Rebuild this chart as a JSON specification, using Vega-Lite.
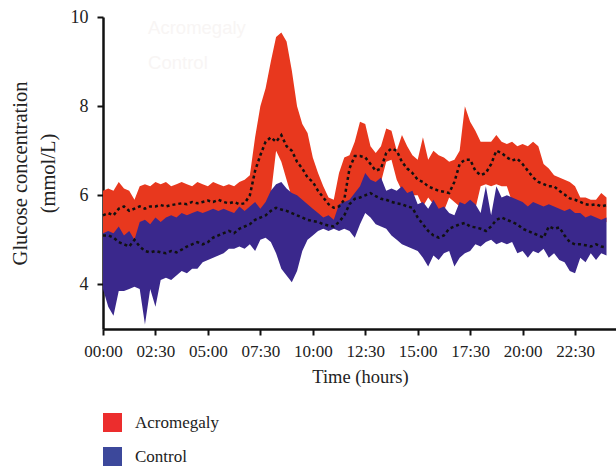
{
  "$schema": "https://vega.github.io/schema/vega-lite/v6.json",
  "width": 514,
  "height": 312,
  "autosize": {"type": "none"},
  "padding": {"left": 103, "top": 17, "right": 0, "bottom": 137},
  "background": "white",
  "config": {
    "view": {"stroke": null},
    "axis": {
      "grid": false,
      "domainColor": "#111",
      "domainWidth": 2.5,
      "tickColor": "#111",
      "tickWidth": 2,
      "tickSize": 6,
      "labelFont": "Liberation Serif",
      "labelFontSize": 17,
      "labelColor": "#222",
      "labelFlush": false,
      "labelOverlap": false,
      "titleFont": "Liberation Serif",
      "titleFontWeight": "normal",
      "titleColor": "#222"
    }
  },
  "datasets": {
    "ghost": [
      {"h": 2.15, "v": 9.75, "t": "Acromegaly"},
      {"h": 2.15, "v": 8.965, "t": "Control"}
    ]
  },
  "data": {
    "values": [
      {"h":0,"g":"Acromegaly","lo":5.05,"hi":6.1,"m":5.55},
      {"h":0.25,"g":"Acromegaly","lo":5.1,"hi":6.15,"m":5.6},
      {"h":0.5,"g":"Acromegaly","lo":5.05,"hi":6.1,"m":5.55},
      {"h":0.75,"g":"Acromegaly","lo":5.2,"hi":6.3,"m":5.7},
      {"h":1,"g":"Acromegaly","lo":5.0,"hi":6.15,"m":5.75},
      {"h":1.25,"g":"Acromegaly","lo":5.1,"hi":6.1,"m":5.65},
      {"h":1.5,"g":"Acromegaly","lo":4.95,"hi":5.9,"m":5.7},
      {"h":1.75,"g":"Acromegaly","lo":5.3,"hi":6.2,"m":5.75},
      {"h":2,"g":"Acromegaly","lo":5.35,"hi":6.25,"m":5.7},
      {"h":2.25,"g":"Acromegaly","lo":5.25,"hi":6.2,"m":5.75},
      {"h":2.5,"g":"Acromegaly","lo":5.4,"hi":6.3,"m":5.75},
      {"h":2.75,"g":"Acromegaly","lo":5.3,"hi":6.25,"m":5.78},
      {"h":3,"g":"Acromegaly","lo":5.4,"hi":6.3,"m":5.75},
      {"h":3.25,"g":"Acromegaly","lo":5.45,"hi":6.2,"m":5.78},
      {"h":3.5,"g":"Acromegaly","lo":5.4,"hi":6.25,"m":5.8},
      {"h":3.75,"g":"Acromegaly","lo":5.5,"hi":6.3,"m":5.82},
      {"h":4,"g":"Acromegaly","lo":5.45,"hi":6.25,"m":5.8},
      {"h":4.25,"g":"Acromegaly","lo":5.5,"hi":6.2,"m":5.85},
      {"h":4.5,"g":"Acromegaly","lo":5.55,"hi":6.3,"m":5.82},
      {"h":4.75,"g":"Acromegaly","lo":5.5,"hi":6.25,"m":5.85},
      {"h":5,"g":"Acromegaly","lo":5.55,"hi":6.2,"m":5.88},
      {"h":5.25,"g":"Acromegaly","lo":5.6,"hi":6.3,"m":5.85},
      {"h":5.5,"g":"Acromegaly","lo":5.55,"hi":6.25,"m":5.9},
      {"h":5.75,"g":"Acromegaly","lo":5.6,"hi":6.2,"m":5.85},
      {"h":6,"g":"Acromegaly","lo":5.55,"hi":6.25,"m":5.82},
      {"h":6.25,"g":"Acromegaly","lo":5.5,"hi":6.2,"m":5.85},
      {"h":6.5,"g":"Acromegaly","lo":5.65,"hi":6.3,"m":5.8},
      {"h":6.75,"g":"Acromegaly","lo":5.55,"hi":6.35,"m":5.82},
      {"h":7,"g":"Acromegaly","lo":5.65,"hi":6.45,"m":6.0},
      {"h":7.25,"g":"Acromegaly","lo":5.75,"hi":7.3,"m":6.55},
      {"h":7.5,"g":"Acromegaly","lo":5.6,"hi":8.0,"m":6.9},
      {"h":7.75,"g":"Acromegaly","lo":5.75,"hi":8.4,"m":7.2},
      {"h":8,"g":"Acromegaly","lo":6.0,"hi":9.0,"m":7.3},
      {"h":8.25,"g":"Acromegaly","lo":7.0,"hi":9.55,"m":7.2},
      {"h":8.5,"g":"Acromegaly","lo":6.75,"hi":9.65,"m":7.35},
      {"h":8.75,"g":"Acromegaly","lo":6.35,"hi":9.45,"m":7.1},
      {"h":9,"g":"Acromegaly","lo":5.95,"hi":8.8,"m":7.0},
      {"h":9.25,"g":"Acromegaly","lo":5.9,"hi":8.0,"m":6.75},
      {"h":9.5,"g":"Acromegaly","lo":5.8,"hi":7.6,"m":6.6},
      {"h":9.75,"g":"Acromegaly","lo":5.7,"hi":7.4,"m":6.4},
      {"h":10,"g":"Acromegaly","lo":5.6,"hi":6.85,"m":6.3},
      {"h":10.25,"g":"Acromegaly","lo":5.5,"hi":6.5,"m":6.1},
      {"h":10.5,"g":"Acromegaly","lo":5.4,"hi":6.2,"m":5.95},
      {"h":10.75,"g":"Acromegaly","lo":5.45,"hi":5.95,"m":5.8},
      {"h":11,"g":"Acromegaly","lo":5.35,"hi":5.9,"m":5.72},
      {"h":11.25,"g":"Acromegaly","lo":5.7,"hi":6.5,"m":5.75},
      {"h":11.5,"g":"Acromegaly","lo":5.75,"hi":6.85,"m":5.9},
      {"h":11.75,"g":"Acromegaly","lo":5.8,"hi":6.9,"m":6.6},
      {"h":12,"g":"Acromegaly","lo":5.95,"hi":7.2,"m":6.88},
      {"h":12.25,"g":"Acromegaly","lo":6.1,"hi":7.65,"m":6.88},
      {"h":12.5,"g":"Acromegaly","lo":6.4,"hi":7.6,"m":6.85},
      {"h":12.75,"g":"Acromegaly","lo":6.25,"hi":7.1,"m":6.7},
      {"h":13,"g":"Acromegaly","lo":6.2,"hi":6.95,"m":6.55},
      {"h":13.25,"g":"Acromegaly","lo":6.3,"hi":7.1,"m":6.6},
      {"h":13.5,"g":"Acromegaly","lo":6.75,"hi":7.5,"m":6.95},
      {"h":13.75,"g":"Acromegaly","lo":6.8,"hi":7.45,"m":7.05},
      {"h":14,"g":"Acromegaly","lo":6.35,"hi":7.0,"m":7.0},
      {"h":14.25,"g":"Acromegaly","lo":6.1,"hi":7.35,"m":6.75},
      {"h":14.5,"g":"Acromegaly","lo":5.95,"hi":7.1,"m":6.6},
      {"h":14.75,"g":"Acromegaly","lo":6.0,"hi":6.9,"m":6.5},
      {"h":15,"g":"Acromegaly","lo":6.0,"hi":6.8,"m":6.35},
      {"h":15.25,"g":"Acromegaly","lo":5.75,"hi":7.3,"m":6.3},
      {"h":15.5,"g":"Acromegaly","lo":5.95,"hi":6.8,"m":6.2},
      {"h":15.75,"g":"Acromegaly","lo":5.8,"hi":7.0,"m":6.15},
      {"h":16,"g":"Acromegaly","lo":5.6,"hi":6.9,"m":6.1},
      {"h":16.25,"g":"Acromegaly","lo":5.65,"hi":6.85,"m":6.08},
      {"h":16.5,"g":"Acromegaly","lo":5.95,"hi":6.75,"m":6.05},
      {"h":16.75,"g":"Acromegaly","lo":5.85,"hi":6.8,"m":6.3},
      {"h":17,"g":"Acromegaly","lo":5.75,"hi":7.0,"m":6.7},
      {"h":17.25,"g":"Acromegaly","lo":5.7,"hi":8.0,"m":6.8},
      {"h":17.5,"g":"Acromegaly","lo":5.8,"hi":7.65,"m":6.8},
      {"h":17.75,"g":"Acromegaly","lo":5.7,"hi":7.45,"m":6.55},
      {"h":18,"g":"Acromegaly","lo":6.2,"hi":7.2,"m":6.45},
      {"h":18.25,"g":"Acromegaly","lo":6.25,"hi":7.2,"m":6.5},
      {"h":18.5,"g":"Acromegaly","lo":6.2,"hi":7.2,"m":6.7},
      {"h":18.75,"g":"Acromegaly","lo":6.25,"hi":7.35,"m":7.0},
      {"h":19,"g":"Acromegaly","lo":6.2,"hi":7.2,"m":6.95},
      {"h":19.25,"g":"Acromegaly","lo":6.2,"hi":7.15,"m":6.85},
      {"h":19.5,"g":"Acromegaly","lo":5.85,"hi":7.2,"m":6.78},
      {"h":19.75,"g":"Acromegaly","lo":5.8,"hi":7.1,"m":6.82},
      {"h":20,"g":"Acromegaly","lo":5.75,"hi":7.15,"m":6.7},
      {"h":20.25,"g":"Acromegaly","lo":5.65,"hi":7.1,"m":6.55},
      {"h":20.5,"g":"Acromegaly","lo":5.75,"hi":7.2,"m":6.4},
      {"h":20.75,"g":"Acromegaly","lo":5.7,"hi":7.1,"m":6.3},
      {"h":21,"g":"Acromegaly","lo":5.65,"hi":6.7,"m":6.25},
      {"h":21.25,"g":"Acromegaly","lo":5.7,"hi":6.6,"m":6.2},
      {"h":21.5,"g":"Acromegaly","lo":5.65,"hi":6.45,"m":6.2},
      {"h":21.75,"g":"Acromegaly","lo":5.6,"hi":6.4,"m":6.1},
      {"h":22,"g":"Acromegaly","lo":5.55,"hi":6.35,"m":6.02},
      {"h":22.25,"g":"Acromegaly","lo":5.6,"hi":6.3,"m":5.93},
      {"h":22.5,"g":"Acromegaly","lo":5.5,"hi":6.2,"m":5.9},
      {"h":22.75,"g":"Acromegaly","lo":5.5,"hi":5.95,"m":5.85},
      {"h":23,"g":"Acromegaly","lo":5.4,"hi":5.95,"m":5.8},
      {"h":23.25,"g":"Acromegaly","lo":5.45,"hi":5.9,"m":5.78},
      {"h":23.5,"g":"Acromegaly","lo":5.4,"hi":5.9,"m":5.8},
      {"h":23.75,"g":"Acromegaly","lo":5.35,"hi":6.05,"m":5.75},
      {"h":24,"g":"Acromegaly","lo":5.4,"hi":5.95,"m":5.78},

      {"h":0,"g":"Control","lo":3.9,"hi":5.15,"m":5.1},
      {"h":0.25,"g":"Control","lo":3.5,"hi":5.2,"m":5.1},
      {"h":0.5,"g":"Control","lo":3.3,"hi":5.15,"m":5.05},
      {"h":0.75,"g":"Control","lo":3.85,"hi":5.3,"m":4.95},
      {"h":1,"g":"Control","lo":3.85,"hi":5.1,"m":4.9},
      {"h":1.25,"g":"Control","lo":3.9,"hi":5.2,"m":4.85},
      {"h":1.5,"g":"Control","lo":3.95,"hi":5.0,"m":5.0},
      {"h":1.75,"g":"Control","lo":3.9,"hi":5.4,"m":4.85},
      {"h":2,"g":"Control","lo":3.1,"hi":5.45,"m":4.75},
      {"h":2.25,"g":"Control","lo":3.9,"hi":5.35,"m":4.72},
      {"h":2.5,"g":"Control","lo":3.5,"hi":5.5,"m":4.75},
      {"h":2.75,"g":"Control","lo":4.1,"hi":5.4,"m":4.72},
      {"h":3,"g":"Control","lo":4.15,"hi":5.5,"m":4.7},
      {"h":3.25,"g":"Control","lo":4.1,"hi":5.55,"m":4.75},
      {"h":3.5,"g":"Control","lo":4.2,"hi":5.5,"m":4.72},
      {"h":3.75,"g":"Control","lo":4.3,"hi":5.6,"m":4.78},
      {"h":4,"g":"Control","lo":4.25,"hi":5.55,"m":4.85},
      {"h":4.25,"g":"Control","lo":4.35,"hi":5.6,"m":4.9},
      {"h":4.5,"g":"Control","lo":4.35,"hi":5.65,"m":4.95},
      {"h":4.75,"g":"Control","lo":4.5,"hi":5.6,"m":4.9},
      {"h":5,"g":"Control","lo":4.55,"hi":5.65,"m":4.95},
      {"h":5.25,"g":"Control","lo":4.6,"hi":5.7,"m":5.05},
      {"h":5.5,"g":"Control","lo":4.65,"hi":5.65,"m":5.1},
      {"h":5.75,"g":"Control","lo":4.7,"hi":5.7,"m":5.15},
      {"h":6,"g":"Control","lo":4.8,"hi":5.65,"m":5.2},
      {"h":6.25,"g":"Control","lo":4.8,"hi":5.6,"m":5.15},
      {"h":6.5,"g":"Control","lo":4.85,"hi":5.75,"m":5.25},
      {"h":6.75,"g":"Control","lo":4.8,"hi":5.65,"m":5.3},
      {"h":7,"g":"Control","lo":4.9,"hi":5.75,"m":5.35},
      {"h":7.25,"g":"Control","lo":4.75,"hi":5.85,"m":5.45},
      {"h":7.5,"g":"Control","lo":5.0,"hi":5.7,"m":5.5},
      {"h":7.75,"g":"Control","lo":5.05,"hi":5.85,"m":5.55},
      {"h":8,"g":"Control","lo":4.95,"hi":6.1,"m":5.65},
      {"h":8.25,"g":"Control","lo":4.7,"hi":6.25,"m":5.72},
      {"h":8.5,"g":"Control","lo":4.35,"hi":6.3,"m":5.68},
      {"h":8.75,"g":"Control","lo":4.2,"hi":6.15,"m":5.65},
      {"h":9,"g":"Control","lo":4.05,"hi":6.05,"m":5.6},
      {"h":9.25,"g":"Control","lo":4.3,"hi":6.0,"m":5.55},
      {"h":9.5,"g":"Control","lo":4.75,"hi":5.9,"m":5.5},
      {"h":9.75,"g":"Control","lo":5.0,"hi":5.8,"m":5.45},
      {"h":10,"g":"Control","lo":5.1,"hi":5.7,"m":5.42},
      {"h":10.25,"g":"Control","lo":5.2,"hi":5.6,"m":5.4},
      {"h":10.5,"g":"Control","lo":5.25,"hi":5.5,"m":5.35},
      {"h":10.75,"g":"Control","lo":5.2,"hi":5.55,"m":5.32},
      {"h":11,"g":"Control","lo":5.25,"hi":5.45,"m":5.3},
      {"h":11.25,"g":"Control","lo":5.2,"hi":5.8,"m":5.4},
      {"h":11.5,"g":"Control","lo":5.25,"hi":5.85,"m":5.55},
      {"h":11.75,"g":"Control","lo":5.2,"hi":5.9,"m":5.8},
      {"h":12,"g":"Control","lo":5.05,"hi":6.05,"m":5.92},
      {"h":12.25,"g":"Control","lo":5.35,"hi":6.2,"m":5.95},
      {"h":12.5,"g":"Control","lo":5.6,"hi":6.5,"m":6.0},
      {"h":12.75,"g":"Control","lo":5.5,"hi":6.35,"m":6.05},
      {"h":13,"g":"Control","lo":5.35,"hi":6.3,"m":5.98},
      {"h":13.25,"g":"Control","lo":5.3,"hi":6.4,"m":5.92},
      {"h":13.5,"g":"Control","lo":5.25,"hi":6.1,"m":5.9},
      {"h":13.75,"g":"Control","lo":5.1,"hi":6.15,"m":5.85},
      {"h":14,"g":"Control","lo":5.0,"hi":6.1,"m":5.82},
      {"h":14.25,"g":"Control","lo":4.9,"hi":6.2,"m":5.8},
      {"h":14.5,"g":"Control","lo":4.85,"hi":6.05,"m":5.75},
      {"h":14.75,"g":"Control","lo":4.8,"hi":6.1,"m":5.72},
      {"h":15,"g":"Control","lo":4.75,"hi":5.8,"m":5.5},
      {"h":15.25,"g":"Control","lo":4.6,"hi":5.85,"m":5.35},
      {"h":15.5,"g":"Control","lo":4.4,"hi":5.7,"m":5.2},
      {"h":15.75,"g":"Control","lo":4.65,"hi":5.9,"m":5.1},
      {"h":16,"g":"Control","lo":4.55,"hi":5.7,"m":5.05},
      {"h":16.25,"g":"Control","lo":4.7,"hi":5.75,"m":5.1},
      {"h":16.5,"g":"Control","lo":4.75,"hi":5.6,"m":5.25},
      {"h":16.75,"g":"Control","lo":4.4,"hi":5.55,"m":5.3},
      {"h":17,"g":"Control","lo":4.6,"hi":5.85,"m":5.35},
      {"h":17.25,"g":"Control","lo":4.7,"hi":5.8,"m":5.38},
      {"h":17.5,"g":"Control","lo":4.75,"hi":5.9,"m":5.3},
      {"h":17.75,"g":"Control","lo":4.9,"hi":5.8,"m":5.28},
      {"h":18,"g":"Control","lo":4.85,"hi":5.6,"m":5.25},
      {"h":18.25,"g":"Control","lo":4.95,"hi":6.2,"m":5.2},
      {"h":18.5,"g":"Control","lo":5.0,"hi":5.55,"m":5.3},
      {"h":18.75,"g":"Control","lo":4.9,"hi":6.2,"m":5.45},
      {"h":19,"g":"Control","lo":4.95,"hi":5.95,"m":5.5},
      {"h":19.25,"g":"Control","lo":4.9,"hi":6.0,"m":5.45},
      {"h":19.5,"g":"Control","lo":4.95,"hi":5.95,"m":5.4},
      {"h":19.75,"g":"Control","lo":4.7,"hi":5.9,"m":5.35},
      {"h":20,"g":"Control","lo":4.75,"hi":5.85,"m":5.25},
      {"h":20.25,"g":"Control","lo":4.6,"hi":5.75,"m":5.2},
      {"h":20.5,"g":"Control","lo":4.75,"hi":5.85,"m":5.15},
      {"h":20.75,"g":"Control","lo":4.7,"hi":5.8,"m":5.1},
      {"h":21,"g":"Control","lo":4.8,"hi":5.75,"m":5.05},
      {"h":21.25,"g":"Control","lo":4.6,"hi":5.8,"m":5.3},
      {"h":21.5,"g":"Control","lo":4.7,"hi":5.75,"m":5.25},
      {"h":21.75,"g":"Control","lo":4.55,"hi":5.7,"m":5.28},
      {"h":22,"g":"Control","lo":4.5,"hi":5.65,"m":5.1},
      {"h":22.25,"g":"Control","lo":4.3,"hi":5.7,"m":4.95},
      {"h":22.5,"g":"Control","lo":4.25,"hi":5.6,"m":4.9},
      {"h":22.75,"g":"Control","lo":4.6,"hi":5.6,"m":4.9},
      {"h":23,"g":"Control","lo":4.5,"hi":5.5,"m":4.88},
      {"h":23.25,"g":"Control","lo":4.7,"hi":5.55,"m":4.85},
      {"h":23.5,"g":"Control","lo":4.55,"hi":5.5,"m":4.9},
      {"h":23.75,"g":"Control","lo":4.7,"hi":5.45,"m":4.85},
      {"h":24,"g":"Control","lo":4.65,"hi":5.5,"m":4.83}
    ]
  },
  "encoding": {
    "x": {
      "field": "h",
      "type": "quantitative",
      "scale": {"domain": [0, 24.5], "nice": false, "zero": false},
      "axis": {
        "title": "Time (hours)",
        "titleFontSize": 18.5,
        "titlePadding": 8,
        "values": [0, 2.5, 5, 7.5, 10, 12.5, 15, 17.5, 20, 22.5],
        "labelExpr": "(datum.value < 10 ? '0' : '') + floor(datum.value) + ':' + (datum.value % 1 ? '30' : '00')",
        "labelPadding": 8
      }
    }
  },
  "layer": [
    {
      "transform": [{"filter": "datum.g === 'Acromegaly'"}],
      "mark": {"type": "area", "interpolate": "linear", "color": "#E8381E"},
      "encoding": {
        "y": {
          "field": "lo",
          "type": "quantitative",
          "scale": {"domain": [3, 10], "nice": false, "zero": false},
          "axis": {
            "title": ["Glucose concentration", "(mmol/L)"],
            "titleFontSize": 20.5,
            "titleLineHeight": 28,
            "titlePadding": 12,
            "values": [4, 6, 8, 10],
            "labelFontSize": 18,
            "labelPadding": 9
          }
        },
        "y2": {"field": "hi"}
      }
    },
    {
      "transform": [{"filter": "datum.g === 'Control'"}],
      "mark": {"type": "area", "interpolate": "linear", "color": "#3A288C"},
      "encoding": {
        "y": {"field": "lo", "type": "quantitative"},
        "y2": {"field": "hi"}
      }
    },
    {
      "mark": {"type": "line", "color": "#111", "strokeWidth": 2.5, "strokeDash": [3, 3]},
      "encoding": {
        "y": {"field": "m", "type": "quantitative"},
        "detail": {"field": "g"}
      }
    },
    {
      "mark": {"type": "square", "opacity": 0},
      "encoding": {
        "y": {"field": "m", "type": "quantitative"},
        "color": {
          "field": "g",
          "type": "nominal",
          "scale": {"domain": ["Acromegaly", "Control"], "range": ["#EC2D2D", "#3C489B"]},
          "legend": {
            "title": null,
            "orient": "none",
            "legendX": 0,
            "legendY": 396,
            "direction": "vertical",
            "symbolType": "square",
            "symbolSize": 361,
            "symbolOpacity": 1,
            "symbolStrokeWidth": 0,
            "rowPadding": 15,
            "labelOffset": 13,
            "labelFont": "Liberation Serif",
            "labelFontSize": 17,
            "labelColor": "#222",
            "padding": 0
          }
        }
      }
    },
    {
      "data": {"name": "ghost"},
      "mark": {"type": "text", "align": "left", "baseline": "middle", "font": "Liberation Sans", "fontSize": 18.5, "color": "#F8F5F4"},
      "encoding": {
        "y": {"field": "v", "type": "quantitative"},
        "text": {"field": "t"}
      }
    }
  ]
}
